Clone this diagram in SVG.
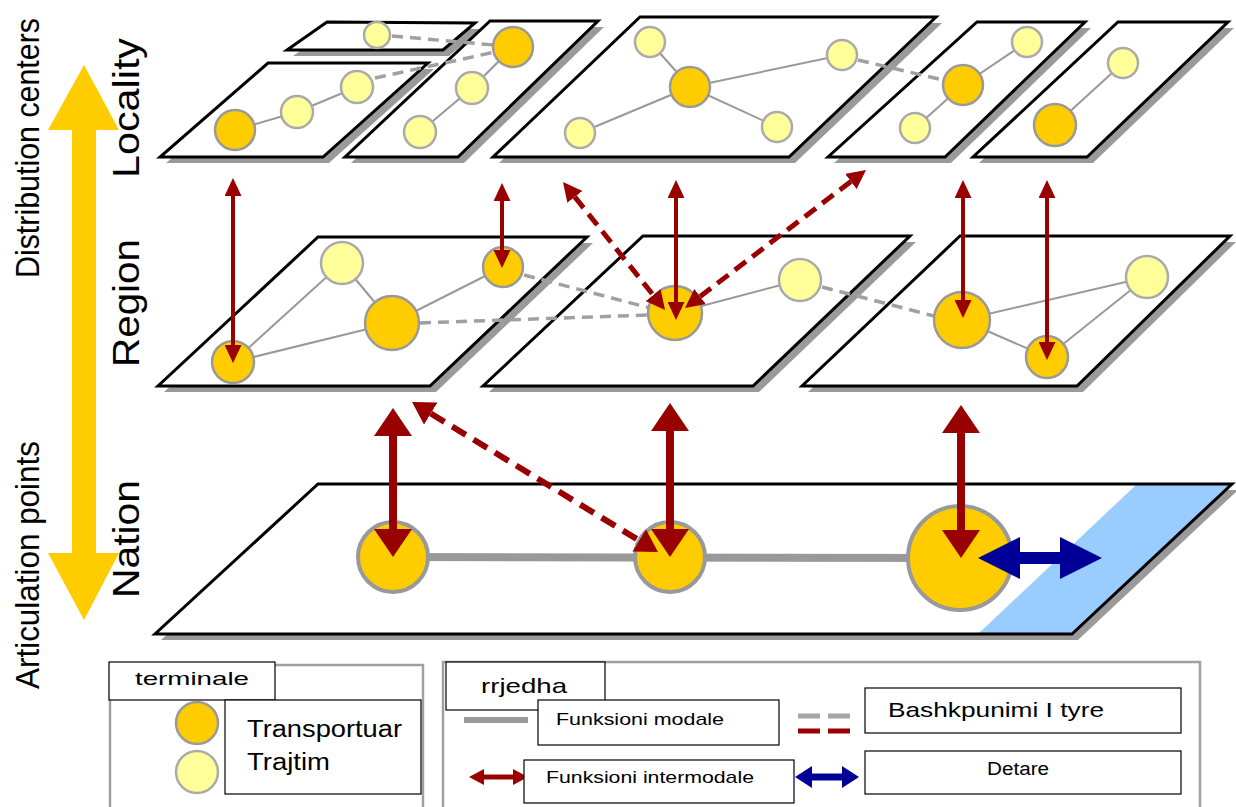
<svg xmlns="http://www.w3.org/2000/svg" width="1236" height="807" viewBox="0 0 1236 807">
  <style>
    .shadow{fill:#9a9a9a}
    .plate{fill:#fff;stroke:#000;stroke-width:3;stroke-linejoin:miter}
    .outline{fill:none;stroke:#000;stroke-width:3;stroke-linejoin:miter}
    .hub{fill:#ffcc00;stroke:#999;stroke-width:2.5}
    .term{fill:#ffff99;stroke:#aaa;stroke-width:2.5}
    .big{stroke-width:4}
    .link{stroke:#999;stroke-width:2;fill:none}
    .trunk{stroke:#999;stroke-width:8;fill:none}
    .coop{stroke:#a0a0a0;stroke-width:3.5;stroke-dasharray:11 7;fill:none}
    .flow{stroke:#990000;fill:none}
    .level{font-family:"Liberation Sans",Arial,sans-serif;font-size:36px;fill:#000}
    .axis{font-family:"Liberation Sans",Arial,sans-serif;font-size:33px;fill:#000}
    .lbox{fill:#fff;stroke:#000;stroke-width:1.2}
    .frame{fill:none;stroke:#a0a0a0;stroke-width:2.5}
    .lt{font-family:"Liberation Sans",Arial,sans-serif;fill:#000}
  </style>
  <defs>
    <marker id="hs" markerUnits="userSpaceOnUse" markerWidth="18" markerHeight="17" viewBox="0 0 18 17" refX="0" refY="8.5" orient="auto-start-reverse">
      <path d="M0,0 L18,8.5 L0,17 Z" fill="#990000"/>
    </marker>
    <marker id="hm" markerUnits="userSpaceOnUse" markerWidth="19" markerHeight="19" viewBox="0 0 19 19" refX="0" refY="9.5" orient="auto-start-reverse">
      <path d="M0,0 L19,9.5 L0,19 Z" fill="#990000"/>
    </marker>
    <marker id="hl" markerUnits="userSpaceOnUse" markerWidth="28" markerHeight="38" viewBox="0 0 28 38" refX="0" refY="19" orient="auto-start-reverse">
      <path d="M0,0 L28,19 L0,38 Z" fill="#990000"/>
    </marker>
    <marker id="hd" markerUnits="userSpaceOnUse" markerWidth="22" markerHeight="26" viewBox="0 0 22 26" refX="0" refY="13" orient="auto-start-reverse">
      <path d="M0,0 L22,13 L0,26 Z" fill="#990000"/>
    </marker>
    <marker id="hb" markerUnits="userSpaceOnUse" markerWidth="42" markerHeight="42" viewBox="0 0 42 42" refX="0" refY="21" orient="auto-start-reverse">
      <path d="M0,0 L42,21 L0,42 Z" fill="#000099"/>
    </marker>
    <marker id="hls" markerUnits="userSpaceOnUse" markerWidth="15" markerHeight="16" viewBox="0 0 15 16" refX="0" refY="8" orient="auto-start-reverse">
      <path d="M0,0 L15,8 L0,16 Z" fill="#990000"/>
    </marker>
    <marker id="hlb" markerUnits="userSpaceOnUse" markerWidth="17" markerHeight="22" viewBox="0 0 17 22" refX="0" refY="11" orient="auto-start-reverse">
      <path d="M0,0 L17,11 L0,22 Z" fill="#000099"/>
    </marker>
  </defs>

  <!-- scale axis -->
  <polygon points="84,65 119,130 96,130 96,553 119,553 84,620 48,553 72,553 72,130 48,130" fill="#ffcc00"/>
  <text class="axis" transform="translate(39,148) rotate(-90)" text-anchor="middle" textLength="260" lengthAdjust="spacingAndGlyphs">Distribution centers</text>
  <text class="axis" transform="translate(39,565) rotate(-90)" text-anchor="middle" textLength="248" lengthAdjust="spacingAndGlyphs">Articulation points</text>
  <text class="level" transform="translate(139,108) rotate(-90)" text-anchor="middle" textLength="140" lengthAdjust="spacingAndGlyphs">Locality</text>
  <text class="level" transform="translate(139,303) rotate(-90)" text-anchor="middle" textLength="128" lengthAdjust="spacingAndGlyphs">Region</text>
  <text class="level" transform="translate(139,539) rotate(-90)" text-anchor="middle" textLength="118" lengthAdjust="spacingAndGlyphs">Nation</text>

  <!-- locality plates -->
  <g id="loc-back">
    <polygon class="shadow" points="333,28 481,29 449,56 293,56"/>
    <polygon class="plate" points="327,22 475,23 443,50 287,50"/>
  </g>
  <g id="loc-a">
    <polygon class="shadow" points="274,69 434,69 329,163 166,163"/>
    <polygon class="plate" points="268,63 428,63 323,157 160,157"/>
  </g>
  <g id="loc-b">
    <polygon class="shadow" points="496,27 604,27 464,163 351,163"/>
    <polygon class="plate" points="490,21 598,21 458,157 345,157"/>
  </g>
  <g id="loc-c">
    <polygon class="shadow" points="646,23 942,23 795,163 499,163"/>
    <polygon class="plate" points="640,17 936,17 789,157 493,157"/>
  </g>
  <g id="loc-d">
    <polygon class="shadow" points="983,28 1091,28 951,163 834,163"/>
    <polygon class="plate" points="977,22 1085,22 945,157 828,157"/>
  </g>
  <g id="loc-e">
    <polygon class="shadow" points="1124,28 1234,28 1093,163 979,163"/>
    <polygon class="plate" points="1118,22 1228,22 1087,157 973,157"/>
  </g>

  <!-- region plates -->
  <g id="reg-1">
    <polygon class="shadow" points="324,243 593,243 436,392 164,392"/>
    <polygon class="plate" points="318,237 587,237 430,386 158,386"/>
  </g>
  <g id="reg-2">
    <polygon class="shadow" points="649,242 916,242 759,392 489,392"/>
    <polygon class="plate" points="643,236 910,236 753,386 483,386"/>
  </g>
  <g id="reg-3">
    <polygon class="shadow" points="966,242 1236,242 1083,392 808,392"/>
    <polygon class="plate" points="960,236 1230,236 1077,386 802,386"/>
  </g>

  <!-- nation plate with sea strip -->
  <g id="nation">
    <polygon class="shadow" points="324,490 1238,490 1078,640 161,640"/>
    <polygon points="318,484 1232,484 1072,634 155,634" fill="#fff"/>
    <polygon id="sea" points="1137,484 1232,484 1072,634 978,634" fill="#99ccff"/>
    <polygon class="outline" points="318,484 1232,484 1072,634 155,634"/>
  </g>

  <!-- links inside and between plates -->
  <g id="links">
    <line class="link" x1="235" y1="130" x2="297" y2="112"/>
    <line class="link" x1="297" y1="112" x2="357" y2="87"/>
    <line class="link" x1="513" y1="47" x2="472" y2="88"/>
    <line class="link" x1="472" y1="88" x2="420" y2="132"/>
    <line class="link" x1="690" y1="87" x2="650" y2="42"/>
    <line class="link" x1="690" y1="87" x2="580" y2="133"/>
    <line class="link" x1="690" y1="87" x2="777" y2="127"/>
    <line class="link" x1="690" y1="87" x2="842" y2="55"/>
    <line class="link" x1="963" y1="85" x2="1027" y2="42"/>
    <line class="link" x1="963" y1="85" x2="915" y2="128"/>
    <line class="link" x1="1055" y1="125" x2="1123" y2="63"/>
    <line class="link" x1="233" y1="362" x2="342" y2="263"/>
    <line class="link" x1="233" y1="362" x2="392" y2="323"/>
    <line class="link" x1="342" y1="263" x2="392" y2="323"/>
    <line class="link" x1="392" y1="323" x2="503" y2="267"/>
    <line class="link" x1="675" y1="313" x2="800" y2="280"/>
    <line class="link" x1="962" y1="320" x2="1147" y2="277"/>
    <line class="link" x1="962" y1="320" x2="1047" y2="357"/>
    <line class="link" x1="1047" y1="357" x2="1147" y2="277"/>
    <line class="trunk" x1="393" y1="557" x2="960" y2="558"/>
    <line class="coop" x1="392" y1="36" x2="494" y2="45"/>
    <line class="coop" x1="375" y1="78" x2="495" y2="52"/>
    <line class="coop" x1="858" y1="60" x2="943" y2="80"/>
    <line class="coop" x1="420" y1="323" x2="647" y2="315"/>
    <line class="coop" x1="524" y1="275" x2="650" y2="308"/>
    <line class="coop" x1="822" y1="287" x2="934" y2="316"/>
  </g>

  <!-- terminals -->
  <g id="n-back-1"><circle class="term" cx="377" cy="35" r="13"/></g>
  <g id="n-a-1"><circle class="hub" cx="235" cy="130" r="20"/></g>
  <g id="n-a-2"><circle class="term" cx="297" cy="112" r="16"/></g>
  <g id="n-a-3"><circle class="term" cx="357" cy="87" r="16"/></g>
  <g id="n-b-1"><circle class="hub" cx="513" cy="47" r="20"/></g>
  <g id="n-b-2"><circle class="term" cx="472" cy="88" r="16"/></g>
  <g id="n-b-3"><circle class="term" cx="420" cy="132" r="16"/></g>
  <g id="n-c-1"><circle class="hub" cx="690" cy="87" r="20"/></g>
  <g id="n-c-2"><circle class="term" cx="650" cy="42" r="15"/></g>
  <g id="n-c-3"><circle class="term" cx="580" cy="133" r="15"/></g>
  <g id="n-c-4"><circle class="term" cx="777" cy="127" r="15"/></g>
  <g id="n-c-5"><circle class="term" cx="842" cy="55" r="15"/></g>
  <g id="n-d-1"><circle class="hub" cx="963" cy="85" r="20"/></g>
  <g id="n-d-2"><circle class="term" cx="1027" cy="42" r="15"/></g>
  <g id="n-d-3"><circle class="term" cx="915" cy="128" r="15"/></g>
  <g id="n-e-1"><circle class="hub" cx="1055" cy="125" r="21"/></g>
  <g id="n-e-2"><circle class="term" cx="1123" cy="63" r="15"/></g>
  <g id="n-r1-1"><circle class="hub" cx="233" cy="362" r="21"/></g>
  <g id="n-r1-2"><circle class="term" cx="342" cy="263" r="21"/></g>
  <g id="n-r1-3"><circle class="hub" cx="392" cy="323" r="27"/></g>
  <g id="n-r1-4"><circle class="hub" cx="503" cy="267" r="20"/></g>
  <g id="n-r2-1"><circle class="hub" cx="675" cy="313" r="27"/></g>
  <g id="n-r2-2"><circle class="term" cx="800" cy="280" r="21"/></g>
  <g id="n-r3-1"><circle class="hub" cx="962" cy="320" r="28"/></g>
  <g id="n-r3-2"><circle class="hub" cx="1047" cy="357" r="21"/></g>
  <g id="n-r3-3"><circle class="term" cx="1147" cy="277" r="21"/></g>
  <g id="n-n-1"><circle class="hub big" cx="393" cy="557" r="35"/></g>
  <g id="n-n-2"><circle class="hub big" cx="670" cy="557" r="35"/></g>
  <g id="n-n-3"><circle class="hub big" cx="960" cy="558" r="52"/></g>

  <!-- transfers between levels -->
  <g id="flows">
    <line class="flow" stroke-width="4" x1="233" y1="196" x2="233" y2="345" marker-start="url(#hs)" marker-end="url(#hs)"/>
    <line class="flow" stroke-width="4" x1="502" y1="201" x2="502" y2="250" marker-start="url(#hs)" marker-end="url(#hs)"/>
    <line class="flow" stroke-width="4" x1="676" y1="198" x2="676" y2="302" marker-start="url(#hs)" marker-end="url(#hs)"/>
    <line class="flow" stroke-width="4" x1="963" y1="198" x2="963" y2="300" marker-start="url(#hs)" marker-end="url(#hs)"/>
    <line class="flow" stroke-width="4" x1="1047" y1="198" x2="1047" y2="342" marker-start="url(#hs)" marker-end="url(#hs)"/>
    <line class="flow" stroke-width="5" stroke-dasharray="14 8" x1="574.8" y1="196.9" x2="653.2" y2="295.1" marker-start="url(#hm)" marker-end="url(#hm)"/>
    <line class="flow" stroke-width="5" stroke-dasharray="14 8" x1="850.9" y1="181.5" x2="700.1" y2="296.5" marker-start="url(#hm)" marker-end="url(#hm)"/>
    <line class="flow" stroke-width="8" x1="393" y1="436" x2="393" y2="529" marker-start="url(#hl)" marker-end="url(#hl)"/>
    <line class="flow" stroke-width="8" x1="670" y1="431" x2="670" y2="529" marker-start="url(#hl)" marker-end="url(#hl)"/>
    <line class="flow" stroke-width="8" x1="961" y1="433" x2="961" y2="530" marker-start="url(#hl)" marker-end="url(#hl)"/>
    <line class="flow" stroke-width="6" stroke-dasharray="16 9" x1="430.8" y1="413.5" x2="639.2" y2="540.5" marker-start="url(#hd)" marker-end="url(#hd)"/>
    <line stroke="#000099" stroke-width="12" x1="1020" y1="558" x2="1060" y2="558" marker-start="url(#hb)" marker-end="url(#hb)"/>
  </g>

  <!-- legend: terminals -->
  <g id="legend-terminals">
    <rect class="frame" x="110" y="665" width="313" height="150"/>
    <rect class="lbox" x="109" y="662" width="166" height="38"/>
    <text class="lt" x="192" y="685" font-size="19" text-anchor="middle" textLength="114" lengthAdjust="spacingAndGlyphs">terminale</text>
    <rect class="lbox" x="225" y="700" width="196" height="94"/>
    <circle class="hub" cx="197" cy="723" r="21"/>
    <circle class="term" cx="197" cy="772" r="21"/>
    <text class="lt" x="247" y="737" font-size="23" textLength="155" lengthAdjust="spacingAndGlyphs">Transportuar</text>
    <text class="lt" x="247" y="770" font-size="23" textLength="83" lengthAdjust="spacingAndGlyphs">Trajtim</text>
  </g>

  <!-- legend: flows -->
  <g id="legend-flows">
    <rect class="frame" x="443" y="662" width="757" height="153"/>
    <rect class="lbox" x="446" y="662" width="159" height="48"/>
    <text class="lt" x="481" y="693" font-size="21" textLength="86" lengthAdjust="spacingAndGlyphs">rrjedha</text>
    <line stroke="#999" stroke-width="6" x1="464" y1="720" x2="528" y2="720"/>
    <rect class="lbox" x="538" y="700" width="241" height="45"/>
    <text class="lt" x="556" y="725" font-size="17" textLength="168" lengthAdjust="spacingAndGlyphs">Funksioni  modale</text>
    <line stroke="#a6a6a6" stroke-width="5" stroke-dasharray="22 8" x1="798" y1="716" x2="850" y2="716"/>
    <line stroke="#990000" stroke-width="5" stroke-dasharray="22 8" x1="798" y1="731" x2="850" y2="731"/>
    <rect class="lbox" x="865" y="688" width="316" height="45"/>
    <text class="lt" x="888" y="717" font-size="21" textLength="216" lengthAdjust="spacingAndGlyphs">Bashkpunimi I tyre</text>
    <line stroke="#990000" stroke-width="5" x1="484" y1="777" x2="513" y2="777" marker-start="url(#hls)" marker-end="url(#hls)"/>
    <rect class="lbox" x="524" y="760" width="270" height="43"/>
    <text class="lt" x="546" y="783" font-size="17" textLength="208" lengthAdjust="spacingAndGlyphs">Funksioni  intermodale</text>
    <line stroke="#000099" stroke-width="7" x1="812" y1="777" x2="842" y2="777" marker-start="url(#hlb)" marker-end="url(#hlb)"/>
    <rect class="lbox" x="865" y="751" width="316" height="43"/>
    <text class="lt" x="1018" y="775" font-size="18" text-anchor="middle" textLength="62" lengthAdjust="spacingAndGlyphs">Detare</text>
  </g>
</svg>
